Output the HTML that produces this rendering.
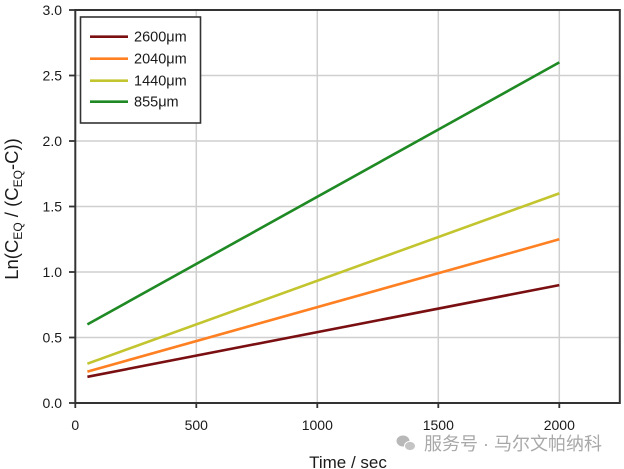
<!DOCTYPE html>
<html><head><meta charset="utf-8"><style>
html,body{margin:0;padding:0;background:#fff;}
svg{display:block;font-family:"Liberation Sans",Arial,sans-serif;}
</style></head><body>
<svg width="624" height="469" viewBox="0 0 624 469" xmlns="http://www.w3.org/2000/svg">
<rect width="624" height="469" fill="#fff"/>
<!-- grid -->
<g stroke="#cfcfcf" stroke-width="1.5">
<line x1="196.3" y1="10" x2="196.3" y2="403"/>
<line x1="317.3" y1="10" x2="317.3" y2="403"/>
<line x1="438.3" y1="10" x2="438.3" y2="403"/>
<line x1="559.3" y1="10" x2="559.3" y2="403"/>
<line x1="75.3" y1="337.5" x2="619.8" y2="337.5"/>
<line x1="75.3" y1="272" x2="619.8" y2="272"/>
<line x1="75.3" y1="206.5" x2="619.8" y2="206.5"/>
<line x1="75.3" y1="141" x2="619.8" y2="141"/>
<line x1="75.3" y1="75.5" x2="619.8" y2="75.5"/>
</g>
<!-- frame -->
<rect x="75.3" y="10" width="544.5" height="393" fill="none" stroke="#333" stroke-width="2"/>
<!-- ticks -->
<g stroke="#333" stroke-width="1.8">
<line x1="75.3" y1="403" x2="75.3" y2="408"/>
<line x1="196.3" y1="403" x2="196.3" y2="408"/>
<line x1="317.3" y1="403" x2="317.3" y2="408"/>
<line x1="438.3" y1="403" x2="438.3" y2="408"/>
<line x1="559.3" y1="403" x2="559.3" y2="408"/>
<line x1="69" y1="403" x2="75.3" y2="403"/>
<line x1="69" y1="337.5" x2="75.3" y2="337.5"/>
<line x1="69" y1="272" x2="75.3" y2="272"/>
<line x1="69" y1="206.5" x2="75.3" y2="206.5"/>
<line x1="69" y1="141" x2="75.3" y2="141"/>
<line x1="69" y1="75.5" x2="75.3" y2="75.5"/>
<line x1="69" y1="10" x2="75.3" y2="10"/>
</g>
<!-- tick labels -->
<g font-size="14" fill="#1a1a1a" text-anchor="end">
<text x="62" y="408">0.0</text>
<text x="62" y="342.5">0.5</text>
<text x="62" y="277">1.0</text>
<text x="62" y="211.5">1.5</text>
<text x="62" y="146">2.0</text>
<text x="62" y="80.5">2.5</text>
<text x="62" y="15">3.0</text>
</g>
<g font-size="14" fill="#1a1a1a" text-anchor="middle">
<text x="75.3" y="430">0</text>
<text x="196.3" y="430">500</text>
<text x="317.3" y="430">1000</text>
<text x="438.3" y="430">1500</text>
<text x="559.3" y="430">2000</text>
</g>
<!-- series -->
<g stroke-width="2.6" stroke-linecap="butt">
<line x1="87.4" y1="376.8" x2="559.3" y2="285.1" stroke="#7a0f12"/>
<line x1="87.4" y1="371.6" x2="559.3" y2="239.3" stroke="#ff8022"/>
<line x1="87.4" y1="363.7" x2="559.3" y2="193.4" stroke="#c2c52e"/>
<line x1="87.4" y1="324.4" x2="559.3" y2="62.4" stroke="#1f8a24"/>
</g>
<!-- legend -->
<rect x="80.5" y="17" width="120" height="106" fill="#fff" stroke="#333" stroke-width="1.6"/>
<g stroke-width="2.6">
<line x1="90" y1="36.7" x2="128" y2="36.7" stroke="#7a0f12"/>
<line x1="90" y1="58.7" x2="128" y2="58.7" stroke="#ff8022"/>
<line x1="90" y1="80.7" x2="128" y2="80.7" stroke="#c2c52e"/>
<line x1="90" y1="101.7" x2="128" y2="101.7" stroke="#1f8a24"/>
</g>
<g font-size="14.5" fill="#1a1a1a">
<text x="134" y="41.7">2600μm</text>
<text x="134" y="63.7">2040μm</text>
<text x="134" y="85.7">1440μm</text>
<text x="134" y="106.7">855μm</text>
</g>
<!-- axis titles -->
<text x="348" y="468" font-size="17" fill="#1a1a1a" text-anchor="middle">Time / sec</text>
<text transform="translate(18,209) rotate(-90)" font-size="18.5" fill="#1a1a1a" text-anchor="middle">Ln(C<tspan font-size="12" dy="4">EQ</tspan><tspan dy="-4"> / (C</tspan><tspan font-size="12" dy="4">EQ</tspan><tspan dy="-4">-C))</tspan></text>
<!-- watermark -->
<g fill="#b8b8b8">
<ellipse cx="403" cy="441" rx="6.5" ry="5.5"/>
<ellipse cx="410" cy="446" rx="5.5" ry="4.6" fill="#c4c4c4" stroke="#fff" stroke-width="1"/>
</g>
<text x="424" y="450" font-size="18" fill="#a8a8a8" font-family="'Liberation Sans','Noto Sans CJK SC',sans-serif">服务号 · 马尔文帕纳科</text>
</svg>
</body></html>
